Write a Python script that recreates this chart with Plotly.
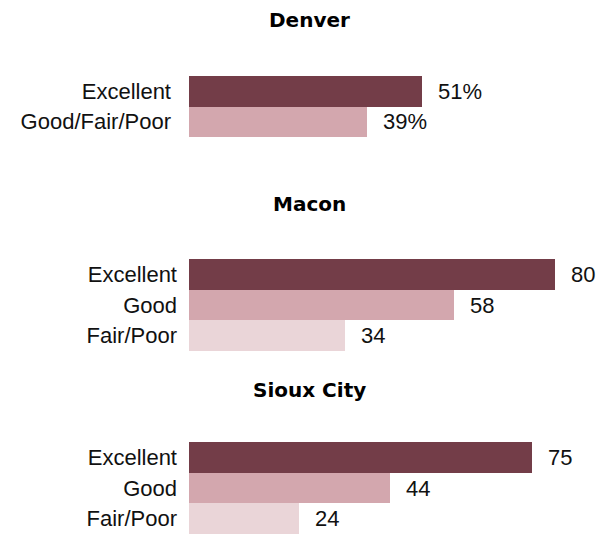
import plotly.graph_objects as go

# Survey results by city
cities = ["Denver", "Macon", "Sioux City"]
denver_labels = ["Excellent", "Good/Fair/Poor"]
denver_values = [51, 39]
macon_labels = ["Excellent", "Good", "Fair/Poor"]
macon_values = [80, 58, 34]
sioux_labels = ["Excellent", "Good", "Fair/Poor"]
sioux_values = [75, 44, 24]

W, H = 608, 534
DARK = "#733d48"
MID = "#d3a7ae"
LIGHT = "#ead5d8"
LABEL_FONT = "Liberation Sans, Arial, sans-serif"
TITLE_FONT = "DejaVu Sans"
LABEL_SIZE = 22

panels = [
    (denver_labels, denver_values, [DARK, MID], True),
    (macon_labels, macon_values, [DARK, MID, LIGHT], False),
    (sioux_labels, sioux_values, [DARK, MID, LIGHT], False),
]

# pixel extents (top, bottom) of each panel's bar block, and title centres
bar_px = [(76, 137), (259, 351), (442, 534)]
title_px = [20, 204, 390]
standoff = [17, 11, 11]
x_left_px = 189
px_per_unit = 4.575
x_max = (W - x_left_px) / px_per_unit

fig = go.Figure()
layout = dict(
    width=W, height=H,
    margin=dict(l=0, r=0, t=0, b=0),
    paper_bgcolor="white", plot_bgcolor="white",
    showlegend=False, bargap=0,
    font=dict(family=LABEL_FONT, size=LABEL_SIZE, color="#111111"),
)
annotations = []

for i, (labels, values, colors, pct) in enumerate(panels):
    n = i + 1
    xa = "x" if n == 1 else f"x{n}"
    ya = "y" if n == 1 else f"y{n}"
    fig.add_trace(go.Bar(
        x=values, y=labels, orientation="h",
        marker=dict(color=colors, line=dict(width=0)),
        xaxis=xa, yaxis=ya, hoverinfo="skip",
    ))
    top, bot = bar_px[i]
    layout["xaxis" if n == 1 else f"xaxis{n}"] = dict(
        domain=[x_left_px / W, 1], range=[0, x_max],
        visible=False, fixedrange=True, anchor=ya,
    )
    layout["yaxis" if n == 1 else f"yaxis{n}"] = dict(
        domain=[1 - bot / H, 1 - top / H],
        type="category", categoryorder="array",
        categoryarray=list(reversed(labels)),
        range=[-0.5, len(labels) - 0.5],
        showgrid=False, zeroline=False, showline=False,
        ticks="", ticklabelstandoff=standoff[i],
        tickfont=dict(family=LABEL_FONT, size=LABEL_SIZE, color="#111111"),
        anchor=xa, fixedrange=True,
    )
    for lab, val in zip(labels, values):
        annotations.append(dict(
            x=val, y=lab, xref=xa, yref=ya,
            text=f"{val}%" if pct else f"{val}",
            showarrow=False, xanchor="left", yanchor="middle",
            xshift=14,
            font=dict(family=LABEL_FONT, size=LABEL_SIZE, color="#111111"),
        ))
    annotations.append(dict(
        x=309.5 / W, y=1 - title_px[i] / H, xref="paper", yref="paper",
        text=f"<b>{cities[i]}</b>", showarrow=False,
        xanchor="center", yanchor="middle",
        font=dict(family=TITLE_FONT, size=20, color="#000000"),
    ))

layout["annotations"] = annotations
fig.update_layout(**layout)
fig.write_html("out.html")
